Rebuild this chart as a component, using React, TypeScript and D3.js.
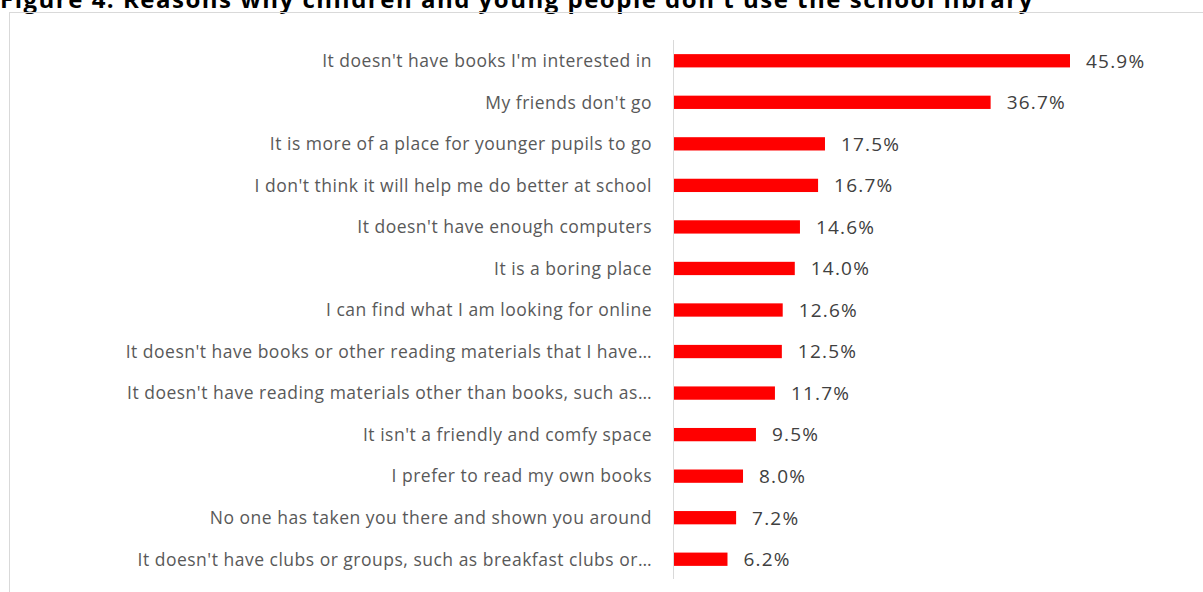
import React from "react";
import * as d3 from "d3";

const categories = [
  "It doesn't have books I'm interested in",
  "My friends don't go",
  "It is more of a place for younger pupils to go",
  "I don't think it will help me do better at school",
  "It doesn't have enough computers",
  "It is a boring place ",
  "I can find what I am looking for online",
  "It doesn't have books or other reading materials that I have…",
  "It doesn't have reading materials other than books, such as…",
  "It isn't a friendly and comfy space",
  "I prefer to read my own books",
  "No one has taken you there and shown you around",
  "It doesn't have clubs or groups, such as breakfast clubs or…",
];
const values = [45.9, 36.7, 17.5, 16.7, 14.6, 14.0, 12.6, 12.5, 11.7, 9.5, 8.0, 7.2, 6.2];
const title = "Figure 4: Reasons why children and young people don't use the school library";

export default function App() {
  const W = 1203, H = 592;
  const x0 = 674;
  const x = d3.scaleLinear().domain([0, 45.9]).range([x0, 1070]);
  const y = d3.scaleBand<string>().domain(categories).range([40, 580]).paddingInner(0.68).paddingOuter(0.34);
  const font = "'Open Sans', 'Noto Sans', sans-serif";
  return (
    <svg width={W} height={H} style={{ position: "absolute", left: 0, top: 0, background: "#fff" }}>
      <text x={0} y={8} fontFamily={font} fontWeight="bold" fontSize={24} letterSpacing={1.5} fill="#000">{title}</text>
      <rect x={9.5} y={12.5} width={1200} height={600} fill="none" stroke="#d9d9d9" strokeWidth={1} />
      {categories.map((c, i) => {
        const yc = (y(c) as number) + y.bandwidth() / 2;
        return (
          <g key={c}>
            <rect x={x0} y={y(c)} width={x(values[i]) - x0} height={y.bandwidth()} fill="#ff0000" />
            <text x={652} y={yc} dy="0.36em" textAnchor="end" fontFamily={font} fontSize={17.5} letterSpacing={0.5} fill="#595959">{c}</text>
            <text x={x(values[i]) + 16} y={yc} dy="0.36em" fontFamily={font} fontSize={19} letterSpacing={1.2} fill="#404040">{values[i].toFixed(1) + "%"}</text>
          </g>
        );
      })}
      <line x1={673.5} x2={673.5} y1={40} y2={579} stroke="#d9d9d9" strokeWidth={1} />
    </svg>
  );
}
